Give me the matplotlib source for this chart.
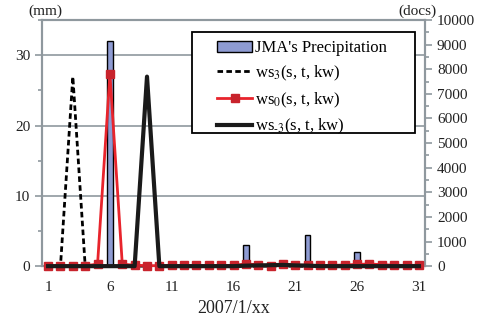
import numpy as np
import matplotlib
matplotlib.use("Agg")
import matplotlib.pyplot as plt
from matplotlib.ticker import MultipleLocator
from matplotlib.patches import Rectangle

plt.rcParams["font.family"] = ["Liberation Serif", "DejaVu Serif"]
plt.rcParams["mathtext.fontset"] = "stix"

days = np.arange(1, 32)

# JMA precipitation (mm), left axis
precip = [0, 0, 0, 0, 0, 32, 0, 0, 0, 0, 0, 0, 0, 0, 0, 0, 3, 0, 0, 0,
          0, 4.5, 0, 0, 0, 2, 0, 0, 0, 0, 0]

# document counts (docs), right axis
ws_p3 = [0, 0, 7700, 0, 0, 0, 0, 0, 0, 0, 0, 0, 0, 0, 0, 0, 0, 0, 0, 0,
         0, 0, 0, 0, 0, 0, 0, 0, 0, 0, 0]
ws_0 = [20, 20, 20, 20, 80, 7800, 80, 40, 20, 20, 30, 30, 30, 30, 30, 30,
        90, 60, 10, 90, 40, 40, 30, 30, 50, 70, 90, 60, 40, 30, 40]
ws_m3 = [0, 0, 0, 0, 0, 0, 0, 0, 7700, 0, 0, 0, 0, 0, 0, 0, 20, 30, 40, 50,
         30, 20, 0, 0, 0, 0, 0, 0, 0, 0, 0]

grey = "#8f989e"

fig = plt.figure(figsize=(4.82, 3.23), dpi=100)
ax = fig.add_axes([0.087, 0.176, 0.795, 0.762])
ax2 = ax.twinx()

bars = ax.bar(days, precip, width=0.45, color="#8e9bd2", edgecolor="black",
              linewidth=1.0, label="JMA's Precipitation", zorder=2)
ax.set_xlim(0.5, 31.5)
ax.set_ylim(0, 35)
ax.yaxis.set_major_locator(MultipleLocator(10))
ax.yaxis.set_minor_locator(MultipleLocator(5))
ax.set_xticks([1, 6, 11, 16, 21, 26, 31])
ax.grid(axis="y", color=grey, linewidth=1.2, zorder=0)
ax.set_axisbelow(True)

l1, = ax2.plot(days, ws_p3, color="black", linestyle=(0, (2, 1.2)),
               linewidth=2, label="ws$_3$(s, t, kw)", clip_on=False, zorder=3)
l2, = ax2.plot(days, ws_0, color="#e8242c", linewidth=2, marker="s",
               markersize=6, markerfacecolor="#c8232c", markeredgecolor="#c8232c",
               label="ws$_0$(s, t, kw)", clip_on=False, zorder=3.1)
l3, = ax2.plot(days, ws_m3, color="#1a1a1a", linewidth=3,
               label="ws$_{\\text{-}3}$(s, t, kw)", clip_on=False, zorder=3.2)
ax2.set_ylim(0, 10000)
ax2.yaxis.set_major_locator(MultipleLocator(1000))
ax2.yaxis.set_minor_locator(MultipleLocator(500))

for a in (ax, ax2):
    for s in a.spines.values():
        s.set_color(grey)
        s.set_linewidth(1.5)
    a.tick_params(axis="both", which="both", colors=grey, labelcolor="#222222",
                  labelsize=11, width=1.2)
    a.tick_params(axis="y", which="major", length=5)
    a.tick_params(axis="y", which="minor", length=3)
ax.tick_params(axis="x", length=0, pad=11)

ax.set_xlabel("2007/1/xx", fontsize=13, color="#222222", labelpad=4)
fig.text(0.094, 0.985, "(mm)", ha="center", va="top", fontsize=11, color="#222222")
fig.text(0.867, 0.985, "(docs)", ha="center", va="top", fontsize=11, color="#222222")

# legend frame
ax2.add_patch(Rectangle((0.392, 0.541), 0.582, 0.410, transform=ax2.transAxes,
                        facecolor="white", edgecolor="black", linewidth=1.3,
                        zorder=4, clip_on=False))
leg = ax2.legend([bars, l1, l2, l3],
                 [bars.get_label(), l1.get_label(), l2.get_label(), l3.get_label()],
                 loc="upper left", bbox_to_anchor=(0.458, 0.918), fontsize=12,
                 frameon=False, handlelength=2.1, borderpad=0, borderaxespad=0,
                 labelspacing=0.45, handletextpad=0.15)
leg.set_zorder(5)

fig.savefig("out.png", dpi=100)
